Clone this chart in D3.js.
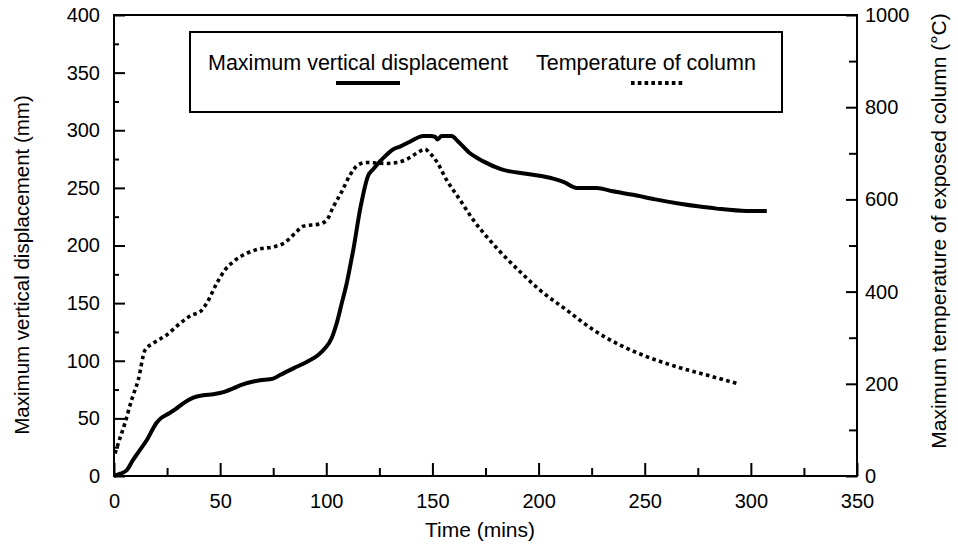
<!DOCTYPE html>
<html>
<head>
<meta charset="utf-8">
<script src="https://cdn.jsdelivr.net/npm/d3@7"></script>
<style>
    body { margin: 0; background: #fff; }
    svg { display: block; font-family: Arial, "Liberation Sans", sans-serif; }
    .tick text { font-size: 20px; fill: #000; }
</style>
</head>
<body>
<svg id="chart" width="958" height="544"></svg>
<script>
// displacement (mm) vs time (mins)
const dispTime = [0, 3, 6, 9, 12, 15.4, 20, 22, 25.6, 29, 32.6, 37.4, 42, 46.8, 52, 56.2, 60, 65.6, 68.8, 75,
    78.2, 84.5, 90.8, 96.2, 99.4, 102.5, 104.9, 107.3, 109.6, 111.2, 112.7, 116, 119.8, 122, 125.3, 128, 131.6,
    135, 139.4, 145.7, 149, 151.2, 152.3, 154.4, 159, 162.2, 167.7, 174, 182.6, 195, 206.9, 212, 218, 227.4,
    235, 244.6, 255, 267.4, 275, 283.9, 298, 307.5];
const dispValue = [0, 2, 5, 14, 22, 31, 46, 50, 54, 58, 63, 68, 70, 71, 73, 76, 79, 82, 83, 84.5,
    87.6, 93.4, 99, 105, 110.8, 119.5, 132.5, 150, 167, 181.6, 196, 232, 261, 266, 273, 278, 283.5,
    286, 290, 295, 295, 294.4, 292, 295, 295, 290, 280, 273, 266, 262, 258, 255, 250, 250,
    247, 244, 240, 236, 234, 232, 230, 230];

// column temperature (°C) vs time (mins)
const tempTime = [0.5, 2.8, 5.2, 8.3, 9.1, 11.4, 14.6, 18.5, 24.8, 31.1, 36.6, 40.5, 43.7, 48.4, 52.3, 56.2,
    62.5, 68, 75, 80, 85, 89.2, 97, 100.2, 103.3, 107.3, 111.2, 115.1, 119, 128.5, 133.2, 137.9, 142.6, 146.5,
    148.9, 152, 156.7, 163, 169.3, 175.6, 181.8, 191.3, 200.7, 213.2, 225.8, 238.4, 250.9, 265, 279.2, 294.1];
const tempValue = [49, 82, 115, 165, 176, 208, 273, 288, 306, 331, 349, 356, 375, 418, 447, 465,
    483, 492, 497, 505, 525, 542, 547, 555, 584, 617, 653, 675, 680, 678, 680, 687, 700, 709,
    700, 682, 642, 599, 555, 519, 487, 443, 403, 360, 317, 284, 259, 237, 219, 200];

const xTicks = [0, 50, 100, 150, 200, 250, 300, 350];
const yTicks = [0, 50, 100, 150, 200, 250, 300, 350, 400];
const tTicks = [0, 200, 400, 600, 800, 1000];

const plotLeft = 114, plotRight = 857, plotTop = 15, plotBottom = 476;

const svg = d3.select("#chart");

const x = d3.scaleLinear().domain([0, 350]).range([plotLeft, plotRight]);
const y = d3.scaleLinear().domain([0, 400]).range([plotBottom, plotTop]);
const yT = d3.scaleLinear().domain([0, 1000]).range([plotBottom, plotTop]);

// minor ticks first
svg.append("g")
    .attr("transform", "translate(0," + plotBottom + ")")
    .call(d3.axisBottom(x).tickValues(d3.range(25, 350, 50)).tickSize(-8).tickSizeOuter(0).tickFormat(""))
    .call(g => g.select(".domain").remove());
svg.append("g")
    .attr("transform", "translate(" + plotLeft + ",0)")
    .call(d3.axisLeft(y).tickValues(d3.range(25, 400, 50)).tickSize(-5).tickSizeOuter(0).tickFormat(""))
    .call(g => g.select(".domain").remove());
svg.append("g")
    .attr("transform", "translate(" + plotRight + ",0)")
    .call(d3.axisRight(yT).tickValues(d3.range(100, 1000, 200)).tickSize(-8).tickSizeOuter(0).tickFormat(""))
    .call(g => g.select(".domain").remove());

// major ticks
svg.append("g")
    .attr("transform", "translate(0," + plotBottom + ")")
    .call(d3.axisBottom(x).tickValues(xTicks).tickSize(-13).tickSizeOuter(0).tickPadding(18))
    .call(g => g.select(".domain").remove());
svg.append("g")
    .attr("transform", "translate(" + plotLeft + ",0)")
    .call(d3.axisLeft(y).tickValues(yTicks).tickSize(-11).tickSizeOuter(0).tickPadding(14))
    .call(g => g.select(".domain").remove());
svg.append("g")
    .attr("transform", "translate(" + plotRight + ",0)")
    .call(d3.axisRight(yT).tickValues(tTicks).tickSize(-11).tickSizeOuter(0).tickPadding(8)
        .tickFormat(d3.format("d")))
    .call(g => g.select(".domain").remove());

svg.selectAll(".tick line").attr("stroke", "#000").attr("stroke-width", 2);

// frame
svg.append("rect")
    .attr("x", plotLeft).attr("y", plotTop)
    .attr("width", plotRight - plotLeft).attr("height", plotBottom - plotTop)
    .attr("fill", "none").attr("stroke", "#000").attr("stroke-width", 2);

// lines
const dispData = dispTime.map((t, i) => [t, dispValue[i]]);
const tempData = tempTime.map((t, i) => [t, tempValue[i]]);

svg.append("path")
    .datum(tempData)
    .attr("fill", "none")
    .attr("stroke", "#000")
    .attr("stroke-width", 3.6)
    .attr("stroke-dasharray", "3.6,3.4")
    .attr("d", d3.line().x(d => x(d[0])).y(d => yT(d[1])).curve(d3.curveMonotoneX));

svg.append("path")
    .datum(dispData)
    .attr("fill", "none")
    .attr("stroke", "#000")
    .attr("stroke-width", 4)
    .attr("stroke-linejoin", "round")
    .attr("d", d3.line().x(d => x(d[0])).y(d => y(d[1])).curve(d3.curveMonotoneX));

// legend
const legend = svg.append("g");
legend.append("rect")
    .attr("x", 190).attr("y", 32).attr("width", 592).attr("height", 80)
    .attr("fill", "#fff").attr("stroke", "#000").attr("stroke-width", 2);
legend.append("text")
    .attr("x", 208).attr("y", 69.5)
    .style("font-size", "21.5px")
    .text("Maximum vertical displacement");
legend.append("line")
    .attr("x1", 336).attr("x2", 400).attr("y1", 83).attr("y2", 83)
    .attr("stroke", "#000").attr("stroke-width", 4);
legend.append("text")
    .attr("x", 536).attr("y", 69.5)
    .style("font-size", "21.5px")
    .text("Temperature of column");
legend.append("line")
    .attr("x1", 631).attr("x2", 684).attr("y1", 83).attr("y2", 83)
    .attr("stroke", "#000").attr("stroke-width", 4)
    .attr("stroke-dasharray", "3.6,3.2");

// axis titles
svg.append("text")
    .attr("x", 480).attr("y", 537)
    .attr("text-anchor", "middle")
    .style("font-size", "21px")
    .text("Time (mins)");
svg.append("text")
    .attr("transform", "translate(29,265) rotate(-90)")
    .attr("text-anchor", "middle")
    .style("font-size", "20.5px")
    .text("Maximum vertical displacement (mm)");
svg.append("text")
    .attr("transform", "translate(946,231) rotate(-90)")
    .attr("text-anchor", "middle")
    .style("font-size", "21px")
    .text("Maximum temperature of exposed column (°C)");
</script>
</body>
</html>
